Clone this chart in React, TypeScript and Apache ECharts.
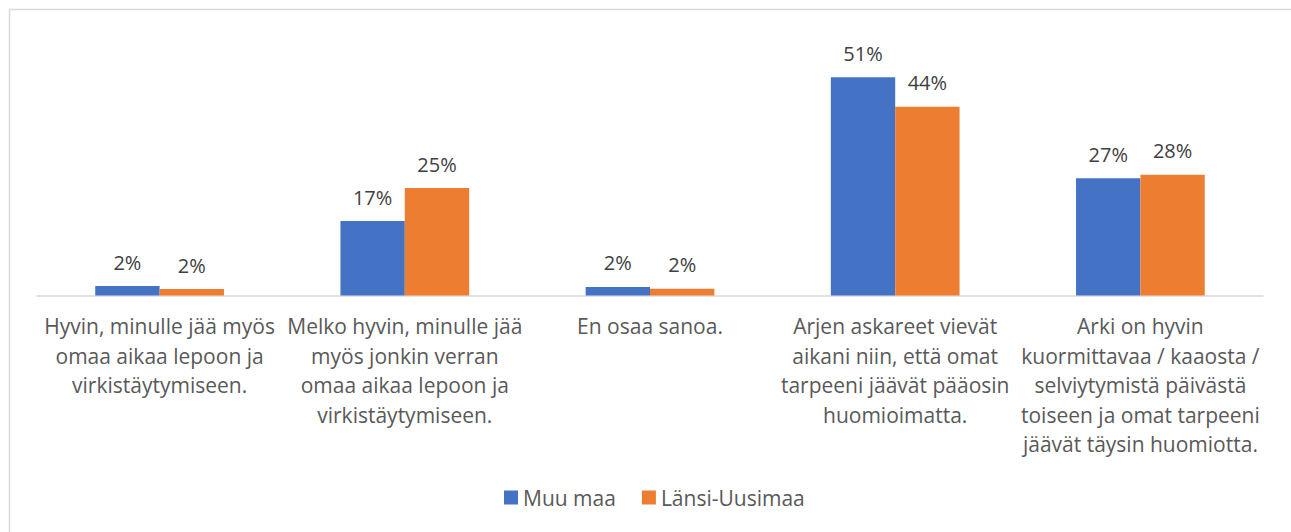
import React, { useEffect, useRef } from "react";
import * as echarts from "echarts";

const categories: string[] = [
  "Hyvin, minulle jää myös\nomaa aikaa lepoon ja\nvirkistäytymiseen.",
  "Melko hyvin, minulle jää\nmyös jonkin verran\nomaa aikaa lepoon ja\nvirkistäytymiseen.",
  "En osaa sanoa.",
  "Arjen askareet vievät\naikani niin, että omat\ntarpeeni jäävät pääosin\nhuomioimatta.",
  "Arki on hyvin\nkuormittavaa / kaaosta /\nselviytymistä päivästä\ntoiseen ja omat tarpeeni\njäävät täysin huomiotta.",
];
const seriesNames: string[] = ["Muu maa", "Länsi-Uusimaa"];
const muuMaa: number[] = [2.2, 17.4, 2.0, 51.0, 27.4];
const lansiUusimaa: number[] = [1.5, 25.1, 1.6, 44.1, 28.2];

const FONT = "Open Sans";

export default function App() {
  const ref = useRef<HTMLDivElement>(null);
  useEffect(() => {
    if (!ref.current) return;
    const chart = echarts.init(ref.current, null, { renderer: "svg" });
    const label = {
      show: true,
      position: "top" as const,
      distance: 14,
      color: "#404040",
      fontFamily: FONT,
      fontSize: 20,
      formatter: (p: any) => Math.round(p.value) + "%",
    };
    chart.setOption({
      animation: false,
      backgroundColor: "#ffffff",
      graphic: [
        {
          type: "rect",
          left: 7,
          top: 7,
          shape: { width: 1290, height: 530 },
          style: { fill: "none", stroke: "#d9d9d9", lineWidth: 1.5 },
          silent: true,
        },
      ],
      legend: {
        data: seriesNames,
        top: 482,
        left: 499,
        itemWidth: 14,
        itemHeight: 14,
        itemGap: 26,
        icon: "rect",
        textStyle: { color: "#595959", fontFamily: FONT, fontSize: 21 },
      },
      grid: { left: 37, right: 28, top: 38.7, bottom: 236.5 },
      xAxis: {
        type: "category",
        data: categories,
        axisLine: { lineStyle: { color: "#d9d9d9", width: 1.5 } },
        axisTick: { show: false },
        axisLabel: {
          color: "#595959",
          fontFamily: FONT,
          fontSize: 21,
          lineHeight: 29.5,
          margin: 16,
          interval: 0,
        },
      },
      yAxis: {
        type: "value",
        min: 0,
        max: 60,
        show: false,
        splitLine: { show: false },
      },
      series: [
        {
          name: seriesNames[0],
          type: "bar",
          data: muuMaa,
          itemStyle: { color: "#4472c4" },
          barGap: "0%",
          barCategoryGap: "47.5%",
          label,
        },
        {
          name: seriesNames[1],
          type: "bar",
          data: lansiUusimaa,
          itemStyle: { color: "#ed7d31" },
          barGap: "0%",
          barCategoryGap: "47.5%",
          label,
        },
      ],
    });
    return () => chart.dispose();
  }, []);
  return (
    <div
      ref={ref}
      style={{ position: "fixed", left: 0, top: 0, width: 1291, height: 532 }}
    />
  );
}
